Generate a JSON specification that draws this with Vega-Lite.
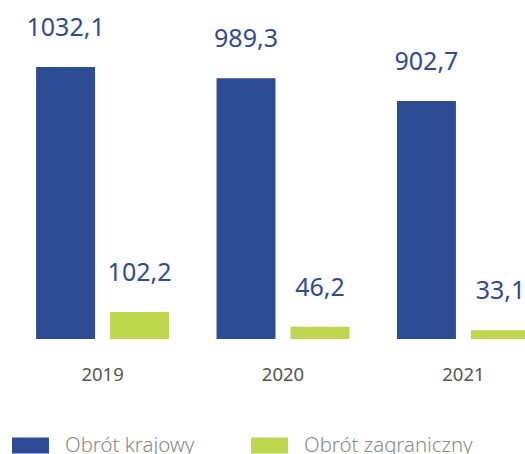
{
  "$schema": "https://vega.github.io/schema/vega-lite/v6.json",
  "width": 525,
  "height": 339,
  "autosize": {"type": "none"},
  "padding": {"left": 0, "top": 0, "right": 0, "bottom": 115},
  "background": "white",
  "data": {
    "values": [
      {"year": "2019", "series": "Obrót krajowy", "value": 1032.1, "label": "1032,1"},
      {"year": "2019", "series": "Obrót zagraniczny", "value": 102.2, "label": "102,2"},
      {"year": "2020", "series": "Obrót krajowy", "value": 989.3, "label": "989,3"},
      {"year": "2020", "series": "Obrót zagraniczny", "value": 46.2, "label": "46,2"},
      {"year": "2021", "series": "Obrót krajowy", "value": 902.7, "label": "902,7"},
      {"year": "2021", "series": "Obrót zagraniczny", "value": 33.1, "label": "33,1"}
    ]
  },
  "encoding": {
    "x": {
      "field": "year",
      "type": "nominal",
      "scale": {"range": [0, 566], "paddingInner": 0.2632, "paddingOuter": 0.2},
      "axis": {
        "title": null,
        "labelAngle": 0,
        "domain": false,
        "ticks": false,
        "tickSize": 0,
        "labelPadding": 26,
        "labelFont": "Noto Sans",
        "labelFontSize": 18.5,
        "labelFontWeight": "normal",
        "labelColor": "#555555",
        "grid": false
      }
    },
    "xOffset": {
      "field": "series",
      "type": "nominal",
      "sort": ["Obrót krajowy", "Obrót zagraniczny"],
      "scale": {"paddingInner": 0.2027, "paddingOuter": 0}
    },
    "y": {
      "field": "value",
      "type": "quantitative",
      "scale": {"domain": [0, 1286], "nice": false, "zero": true},
      "axis": null
    }
  },
  "layer": [
    {
      "mark": {"type": "bar"},
      "encoding": {
        "color": {
          "field": "series",
          "type": "nominal",
          "scale": {"domain": ["Obrót krajowy", "Obrót zagraniczny"], "range": ["#2E4C96", "#BED84E"]},
          "legend": {
            "title": null,
            "orient": "none",
            "direction": "horizontal",
            "legendX": 12,
            "legendY": 427,
            "padding": 0,
            "columnPadding": 56,
            "labelOffset": 16,
            "symbolType": "M-1,-0.43L1,-0.43L1,0.43L-1,0.43Z",
            "symbolSize": 1369,
            "symbolStrokeWidth": 0,
            "symbolOpacity": 1,
            "labelFont": "Noto Sans",
            "labelFontSize": 20.4,
            "labelFontWeight": 300,
            "labelColor": "#8a8a8a",
            "labelLimit": 400
          }
        }
      }
    },
    {
      "mark": {"type": "text", "baseline": "alphabetic", "dy": -31, "font": "Noto Sans", "fontSize": 25, "color": "#2E4C96"},
      "encoding": {
        "text": {"field": "label", "type": "nominal"}
      }
    }
  ],
  "config": {"view": {"stroke": null}}
}
